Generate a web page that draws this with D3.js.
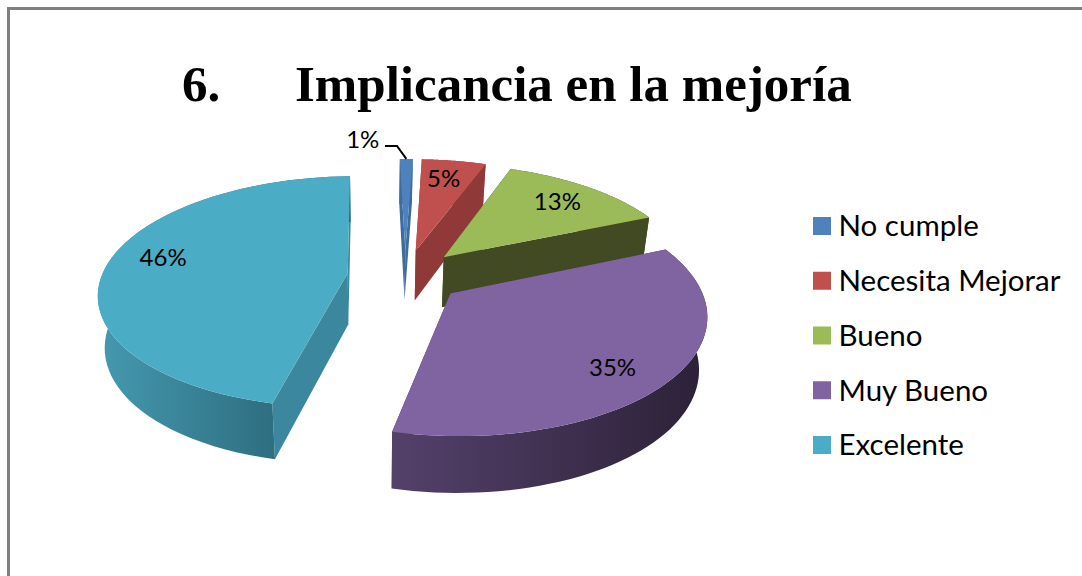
<!DOCTYPE html>
<html lang="es">

<head>
    <meta charset="UTF-8">
    <title>Implicancia en la mejoría</title>
    <script src="https://cdnjs.cloudflare.com/ajax/libs/d3/7.8.5/d3.min.js"></script>
    <style>
        html, body { margin: 0; padding: 0; background: #fff; overflow: hidden; }
        svg { display: block; }
    </style>
</head>

<body>
    <div id="app"></div>
    <script>
        var categories = ["No cumple", "Necesita Mejorar", "Bueno", "Muy Bueno", "Excelente"];
        var values = [1, 5, 13, 35, 46];
        var colors = ["#4f81bd", "#c0504d", "#9bbb59", "#8064a2", "#4bacc6"];
        var radialWall = ["#3f6c9f", "#8f3a38", "#414a23", "#4f3d63", "#3b879e"];
        var outerWallFrom = ["#3f6c9f", "#8f3a38", "#414a23", "#54416b", "#4599b0"];
        var outerWallTo = ["#3f6c9f", "#8f3a38", "#414a23", "#2c2137", "#2e6e80"];
        var labelRadius = [1.27, 0.78, 0.77, 0.8, 0.79];
        var labelTurn = [-10, -1, 0, 5, 5];

        var width = 1082;
        var height = 576;

        // view of the tilted pie
        var cx = 405, cy = 276;      // where the unexploded centre lands
        var rx = 246, ry = 113.5;    // radius on screen, before perspective
        var persp = 0.16;            // how much the back shrinks
        var explode = 0.235;
        var depth = 51;
        var rotation = -1.5 * Math.PI / 180;

        var svg = d3.select("#app")
            .append("svg")
            .attr("width", width)
            .attr("height", height);

        // chart frame, only left and top are in the picture
        svg.append("path")
            .attr("d", "M8.5," + height + "V8.5H" + width)
            .attr("fill", "none")
            .attr("stroke", "#7f7f7f")
            .attr("stroke-width", 3);

        svg.append("text")
            .attr("y", 101)
            .attr("font-family", "'Liberation Serif'")
            .attr("font-weight", "bold")
            .attr("font-size", 51)
            .attr("fill", "#000")
            .selectAll("tspan")
            .data([{ x: 182, t: "6." }, { x: 295, t: "Implicancia en la mejoría" }])
            .enter()
            .append("tspan")
            .attr("x", function (d) { return d.x; })
            .text(function (d) { return d.t; });

        // world point (x right, y to the back, both in radii) to screen
        function project(wx, wy, low) {
            var d = 1 + persp * wy;
            var x = cx + rx * wx / d;
            var y = cy - ry * wy / d;
            if (low) {
                x += (375 - x) * 0.025;
                y += depth * (1 - 0.1 * wy);
            }
            return [x, y];
        }

        var pie = d3.pie().sort(null)
            .startAngle(rotation)
            .endAngle(rotation + 2 * Math.PI);
        var arcs = pie(values);
        var line = d3.line();

        function arcPoints(d, low) {
            var mid = (d.startAngle + d.endAngle) / 2;
            var ox = explode * Math.sin(mid), oy = explode * Math.cos(mid);
            return d3.range(0, 61).map(function (i) {
                var a = d.startAngle + (d.endAngle - d.startAngle) * i / 60;
                return project(ox + Math.sin(a), oy + Math.cos(a), low);
            });
        }

        function apex(d, low) {
            var mid = (d.startAngle + d.endAngle) / 2;
            return project(explode * Math.sin(mid), explode * Math.cos(mid), low);
        }

        var defs = svg.append("defs");
        var pieG = svg.append("g");
        var order = [4, 0, 1, 2, 3]; // back to front

        order.forEach(function (i) {
            var d = arcs[i];
            var top = arcPoints(d, false);
            var bot = arcPoints(d, true);
            var a0 = apex(d, false);
            var a1 = apex(d, true);
            var g = pieG.append("g");

            var xs = top.concat(bot).filter(function (p) { return p[1] > a0[1]; }).map(function (p) { return p[0]; });
            var grad = defs.append("linearGradient")
                .attr("id", "wall" + i)
                .attr("gradientUnits", "userSpaceOnUse")
                .attr("x1", d3.min(xs))
                .attr("x2", d3.max(xs))
                .attr("y1", 0).attr("y2", 0);
            grad.append("stop").attr("offset", 0).attr("stop-color", outerWallFrom[i]);
            grad.append("stop").attr("offset", 1).attr("stop-color", outerWallTo[i]);

            // radial cuts
            [[top[0], bot[0]], [top[60], bot[60]]].forEach(function (e) {
                g.append("path")
                    .attr("d", line([a0, e[0], e[1], a1]) + "Z")
                    .attr("fill", radialWall[i]);
            });
            // rim
            g.append("path")
                .attr("d", line(top.concat(bot.slice().reverse())) + "Z")
                .attr("fill", "url(#wall" + i + ")");
            // top face
            g.append("path")
                .attr("d", line([a0].concat(top)) + "Z")
                .attr("fill", colors[i]);
        });

        // data labels
        svg.selectAll(".lbl")
            .data(arcs)
            .enter()
            .append("text")
            .attr("class", "lbl")
            .attr("transform", function (d, i) {
                var mid = (d.startAngle + d.endAngle) / 2;
                var a = mid + labelTurn[i] * Math.PI / 180;
                var r = labelRadius[i];
                return "translate(" + project(explode * Math.sin(mid) + r * Math.sin(a), explode * Math.cos(mid) + r * Math.cos(a)) + ")";
            })
            .attr("text-anchor", "middle")
            .attr("dy", ".35em")
            .attr("font-family", "Lato")
            .attr("font-size", 24)
            .attr("fill", "#000")
            .text(function (d) { return d.data + "%"; });

        // leader for the small slice
        var tip = arcPoints(arcs[0], false)[30];
        svg.append("path")
            .attr("d", "M385,146H397L" + tip[0] + "," + tip[1])
            .attr("fill", "none")
            .attr("stroke", "#000")
            .attr("stroke-width", 2);

        // legend
        var legendY = d3.scalePoint().domain(categories).range([226, 445]);
        var legend = svg.selectAll(".leg")
            .data(categories)
            .enter()
            .append("g")
            .attr("class", "leg")
            .attr("transform", function (d) { return "translate(813," + legendY(d) + ")"; });
        legend.append("rect")
            .attr("y", -9).attr("width", 18).attr("height", 18)
            .attr("fill", function (d, i) { return colors[i]; });
        legend.append("text")
            .attr("x", 25.5).attr("dy", ".35em")
            .attr("font-family", "Lato")
            .attr("font-size", 29.5)
            .attr("fill", "#000")
            .text(function (d) { return d; });
    </script>
</body>

</html>
